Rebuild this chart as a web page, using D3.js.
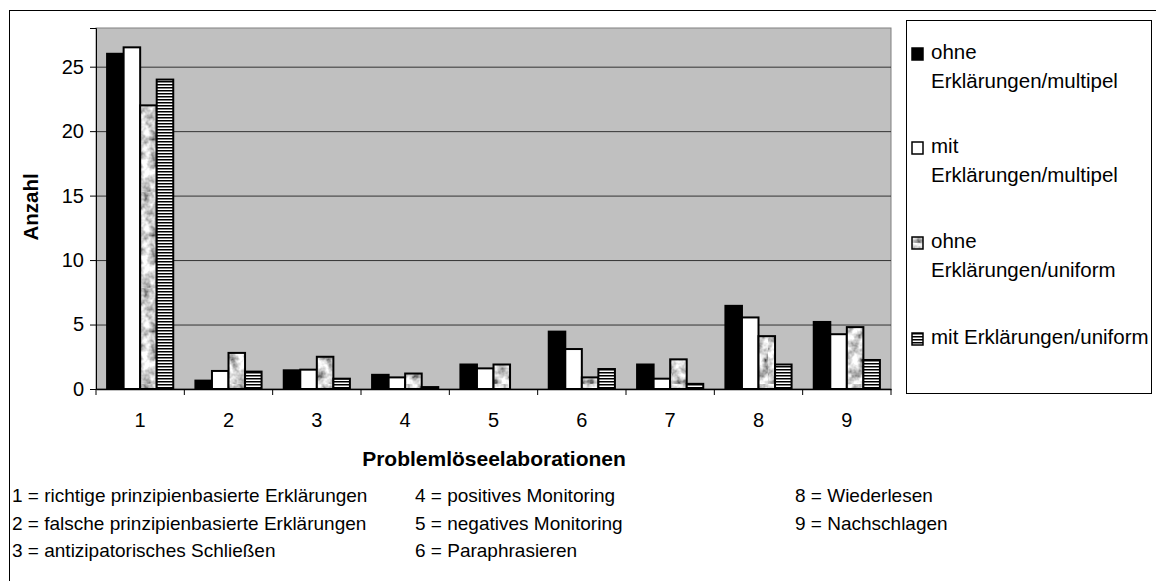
<!DOCTYPE html>
<html>
<head>
<meta charset="utf-8">
<script src="https://cdn.jsdelivr.net/npm/d3@7"></script>
<style>
  body { margin: 0; background: #fff; }
  svg text { font-family: "Liberation Sans", Arial, sans-serif; fill: #000; }
</style>
</head>
<body>
<svg width="1156" height="581"></svg>
<script>
const categories = ["1", "2", "3", "4", "5", "6", "7", "8", "9"];
const seriesNames = [
    ["ohne", "Erklärungen/multipel"],
    ["mit", "Erklärungen/multipel"],
    ["ohne", "Erklärungen/uniform"],
    ["mit Erklärungen/uniform"]
];
const ohneMultipel = [26, 0.65, 1.45, 1.1, 1.9, 4.45, 1.9, 6.45, 5.2];
const mitMultipel = [26.5, 1.4, 1.5, 0.9, 1.6, 3.1, 0.8, 5.55, 4.25];
const ohneUniform = [22, 2.8, 2.5, 1.2, 1.9, 0.9, 2.3, 4.1, 4.8];
const mitUniform = [24, 1.35, 0.8, 0.15, 0, 1.55, 0.4, 1.9, 2.25];
const yTicks = [0, 5, 10, 15, 20, 25];
const notes = [
    ["1 = richtige prinzipienbasierte Erklärungen", "2 = falsche prinzipienbasierte Erklärungen", "3 = antizipatorisches Schließen"],
    ["4 = positives Monitoring", "5 = negatives Monitoring", "6 = Paraphrasieren"],
    ["8 = Wiederlesen", "9 = Nachschlagen"]
];

const allSeries = [ohneMultipel, mitMultipel, ohneUniform, mitUniform];
const fills = ["#000", "#fff", "url(#mottle)", "url(#stripes)"];

const svg = d3.select("svg");

// patterns
const defs = svg.append("defs");
const noise = defs.append("filter").attr("id", "noise")
    .attr("x", 0).attr("y", 0).attr("width", "100%").attr("height", "100%");
noise.append("feTurbulence").attr("type", "fractalNoise")
    .attr("baseFrequency", 0.11).attr("numOctaves", 3).attr("seed", 7).attr("result", "n");
noise.append("feColorMatrix").attr("type", "matrix")
    .attr("values", "1.9 0 0 0 -0.3  1.9 0 0 0 -0.3  1.9 0 0 0 -0.3  0 0 0 0 1");
const mottle = defs.append("pattern").attr("id", "mottle")
    .attr("patternUnits", "userSpaceOnUse").attr("width", 96).attr("height", 96);
mottle.append("rect").attr("width", 96).attr("height", 96).attr("filter", "url(#noise)");

const stripes = defs.append("pattern").attr("id", "stripes")
    .attr("patternUnits", "userSpaceOnUse").attr("width", 8).attr("height", 3);
stripes.append("rect").attr("width", 8).attr("height", 3).attr("fill", "#fff");
stripes.append("rect").attr("width", 8).attr("height", 1.5).attr("fill", "#000");

// outer frame
svg.append("rect")
    .attr("x", 9.5).attr("y", 10.5).attr("width", 1200).attr("height", 600)
    .attr("fill", "none").attr("stroke", "#000").attr("stroke-width", 1);

const margin = {top: 28, left: 96, right: 891, bottom: 389};

const xScale = d3.scaleBand()
    .domain(categories)
    .range([margin.left, margin.right]);

const xInner = d3.scaleBand()
    .domain(d3.range(allSeries.length))
    .range([0, xScale.bandwidth()])
    .paddingOuter(0.67);

const yScale = d3.scaleLinear()
    .domain([0, 28])
    .range([margin.bottom, margin.top]);

// plot area
svg.append("rect")
    .attr("x", margin.left).attr("y", margin.top)
    .attr("width", margin.right - margin.left).attr("height", margin.bottom - margin.top)
    .attr("fill", "#c0c0c0").attr("stroke", "#808080");

svg.append("g")
    .selectAll("line")
    .data(yTicks.filter(d => d > 0))
    .enter().append("line")
        .attr("x1", margin.left).attr("x2", margin.right)
        .attr("y1", d => yScale(d) + 0.5).attr("y2", d => yScale(d) + 0.5)
        .attr("stroke", "#333").attr("stroke-width", 1);

// bars
const groups = svg.append("g")
    .selectAll("g")
    .data(allSeries)
    .enter().append("g")
        .attr("fill", (d, i) => fills[i]);

groups.selectAll("rect")
    .data((d, i) => d.map((v, j) => ({v: v, cat: categories[j], s: i})))
    .enter().append("rect")
        .filter(d => d.v > 0)
        .attr("x", d => xScale(d.cat) + xInner(d.s))
        .attr("y", d => yScale(d.v))
        .attr("width", xInner.bandwidth())
        .attr("height", d => yScale(0) - yScale(d.v))
        .attr("stroke", "#000")
        .attr("stroke-width", 2);

// axes
const yAxis = d3.axisLeft(yScale).tickValues(yTicks).tickSize(6).tickPadding(6);
const yAxisG = svg.append("g")
    .attr("transform", "translate(" + margin.left + ",0)")
    .call(yAxis);
yAxisG.selectAll("text").style("font-size", "20px");

const xAxisG = svg.append("g")
    .attr("transform", "translate(0," + margin.bottom + ")")
    .call(d3.axisBottom(xScale).tickSize(0).tickPadding(24));
xAxisG.selectAll("text").style("font-size", "20px");
xAxisG.select(".domain").attr("stroke", "#000").attr("stroke-width", 1.5);

svg.append("g")
    .selectAll("line")
    .data(categories.concat(["end"]))
    .enter().append("line")
        .attr("x1", (d, i) => i < categories.length ? xScale(d) : margin.right)
        .attr("x2", (d, i) => i < categories.length ? xScale(d) : margin.right)
        .attr("y1", margin.bottom).attr("y2", margin.bottom + 6)
        .attr("stroke", "#000");

// axis titles
svg.append("text")
    .attr("transform", "translate(33,207) rotate(-90)")
    .attr("text-anchor", "middle")
    .attr("dominant-baseline", "middle")
    .style("font-size", "20.5px").style("font-weight", "bold")
    .text("Anzahl");

svg.append("text")
    .attr("x", 494).attr("y", 460)
    .attr("text-anchor", "middle")
    .attr("dominant-baseline", "middle")
    .style("font-size", "21px").style("font-weight", "bold")
    .text("Problemlöseelaborationen");

// legend
svg.append("rect")
    .attr("x", 906.5).attr("y", 20.5).attr("width", 245).attr("height", 373)
    .attr("fill", "#fff").attr("stroke", "#000");

const legendY = [54, 148, 243, 339];
const legend = svg.append("g")
    .selectAll("g")
    .data(seriesNames)
    .enter().append("g")
        .attr("transform", (d, i) => "translate(912," + legendY[i] + ")");

legend.append("rect")
    .attr("x", 0).attr("y", -6).attr("width", 11).attr("height", 12)
    .attr("fill", (d, i) => fills[i])
    .attr("stroke", "#000").attr("stroke-width", 1.5);

legend.selectAll("text")
    .data(d => d)
    .enter().append("text")
        .attr("x", 19)
        .attr("y", (d, i) => i * 29)
        .attr("dominant-baseline", "middle")
        .style("font-size", "20.5px")
        .text(d => d);

// notes below the chart
const noteX = [12, 415, 795];
const noteG = svg.append("g")
    .selectAll("g")
    .data(notes)
    .enter().append("g")
        .attr("transform", (d, i) => "translate(" + noteX[i] + ",0)");

noteG.selectAll("text")
    .data(d => d)
    .enter().append("text")
        .attr("x", 0)
        .attr("y", (d, i) => 497 + i * 27.5)
        .attr("dominant-baseline", "middle")
        .style("font-size", "19px")
        .text(d => d);
</script>
</body>
</html>
